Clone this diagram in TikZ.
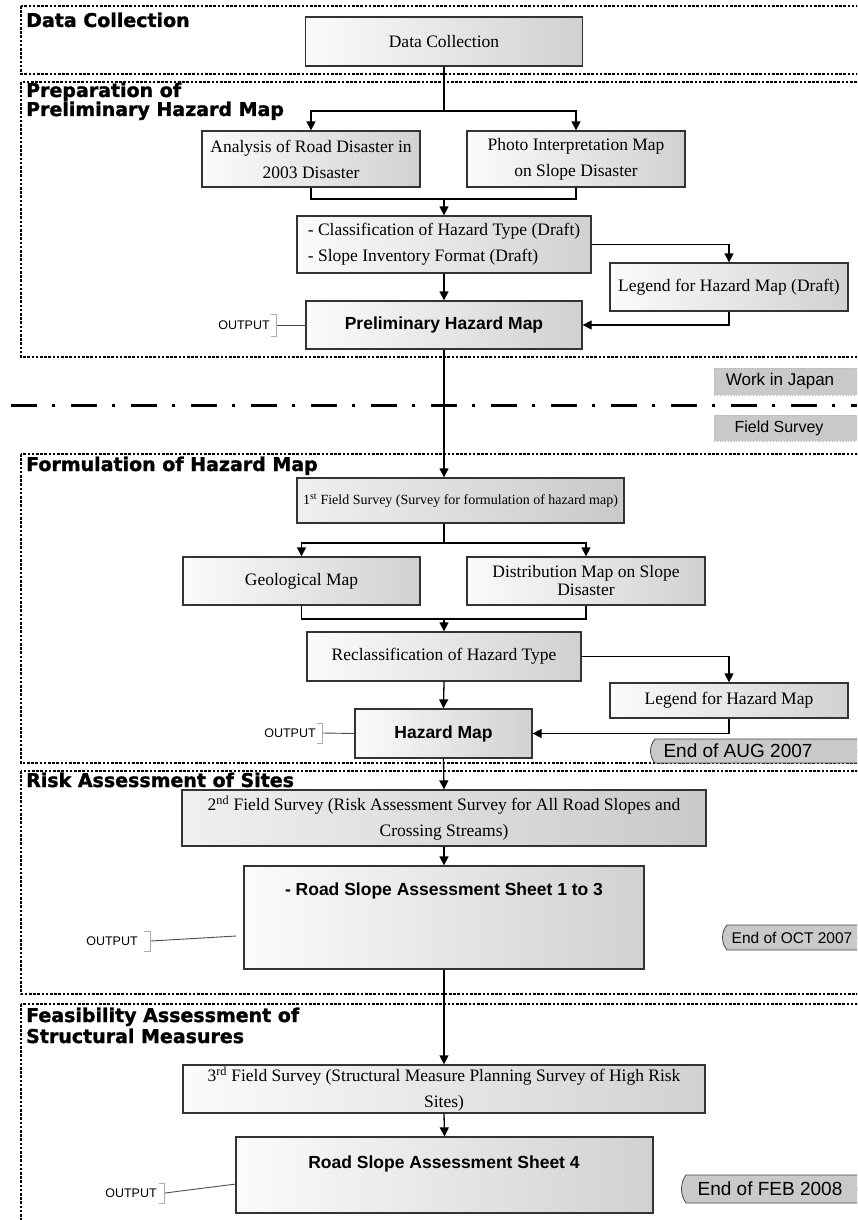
\documentclass[tikz,border=0pt]{standalone}
\usepackage{fontspec}
\setmainfont{Liberation Serif}
\setsansfont{Liberation Sans}
\newfontfamily\titlefont{DejaVu Sans Bold}[FakeBold=1.4]
\usetikzlibrary{arrows.meta,calc}

\begin{document}
\begin{tikzpicture}[x=1pt,y=-1pt,
  frame/.style={draw=black, line width=1.3pt, dash pattern=on 2.6pt off 1.6pt},
  sectitle/.style={anchor=base west, inner sep=0pt, font=\titlefont\fontsize{19}{21}\selectfont},
  box/.style={draw=black!80, line width=1.3pt, left color=gray!3, middle color=gray!12, right color=gray!36,
    inner sep=0pt, align=center, font=\fontsize{17.5}{26}\selectfont},
  darkbox/.style={box, left color=gray!12, middle color=gray!24, right color=gray!42},
  boldbox/.style={box, font=\sffamily\bfseries\fontsize{17.5}{21}\selectfont},
  boxtext/.style={inner sep=0pt, align=center},
  ln/.style={line width=1.3pt, draw=black},
  arr/.style={ln, -{Triangle[length=9pt,width=9pt]}},
  outlbl/.style={inner sep=0pt, font=\sffamily\fontsize{12.5}{14}\selectfont},
  brk/.style={draw=gray!65, line width=1pt},
  lead/.style={draw=black!70, line width=0.9pt},
  phase/.style={fill=gray!42, draw=gray!60, dotted, line width=0.8pt, inner sep=0pt, text=black},
  tagshape/.style={fill=gray!42, draw=gray!55!black, line width=0.8pt},
  tagtext/.style={inner sep=0pt, font=\sffamily\fontsize{19}{21}\selectfont}
]
\useasboundingbox (0,0) rectangle (857,1220);
\fill[white] (0,0) rectangle (857,1220);
\clip (0,0) rectangle (857,1220);

% ---- section frames -------------------------------------------------
\draw[frame] (21,6) rectangle (880,74);
\draw[frame] (21,82) rectangle (880,357);
\draw[frame] (21,454) rectangle (880,763);
\draw[frame] (21,771) rectangle (880,994);
\draw[frame] (21,1004) rectangle (880,1250);

% ---- divider between home work and field work -----------------------
\draw[line width=3pt, dash pattern=on 26pt off 15pt on 3pt off 16pt] (11,405) -- (857,405);
\node[phase, minimum width=146, minimum height=27, font=\sffamily\fontsize{17}{19}\selectfont] (wij) at (787,381.5)
  {\hspace*{-14pt}Work in Japan};
\node[phase, minimum width=146, minimum height=26, font=\sffamily\fontsize{16}{18}\selectfont] (fsv) at (787,428)
  {\hspace*{-16pt}Field Survey};

% ---- Data Collection / preliminary map --------------------------------
\node[box, minimum width=277, minimum height=49] (dc) at (444,41.5) {Data Collection};
\node[box, minimum width=218, minimum height=56] (ana) at (311,159) {Analysis of Road Disaster in\\2003 Disaster};
\node[box, minimum width=218, minimum height=56] (pho) at (576,159) {Photo Interpretation Map\\on Slope Disaster};
\node[box, minimum width=294, minimum height=57, align=left] (cls) at (444,244.5)
  {- Classification of Hazard Type (Draft)\\- Slope Inventory Format (Draft)};
\node[box, minimum width=238, minimum height=48] (leg1) at (729,287) {Legend for Hazard Map (Draft)};
\node[boldbox, minimum width=276, minimum height=48] (phm) at (444,325) {Preliminary Hazard Map};

\coordinate (j1) at (444,111);
\coordinate (j2) at (444,199);
\draw[ln] (dc.south) -- (j1);
\draw[arr] (j1) -| (ana.north);
\draw[arr] (j1) -| (pho.north);
\draw[ln] (ana.south) |- (j2);
\draw[ln] (pho.south) |- (j2);
\draw[arr] (j2) -- (cls.north);
\draw[arr] (cls.east) -| (leg1.north);
\draw[arr] (leg1.south) |- (phm.east);
\draw[arr] (cls.south) -- (phm.north);

\node[outlbl] (o1) at (244,325) {OUTPUT};
\draw[brk] ($(o1.east)+(1,-11)$) -- ($(o1.east)+(7,-11)$) -- ($(o1.east)+(7,11)$) -- ($(o1.east)+(1,11)$);
\draw[lead] ($(o1.east)+(7,0)$) -- (phm.west);

% ---- hazard map ----------------------------------------------------------
\node[darkbox, minimum width=327, minimum height=45, font=\fontsize{14}{18}\selectfont] (fs1) at (460.5,500.5)
  {1\textsuperscript{st} Field Survey (Survey for formulation of hazard map)};
\draw[arr] (phm.south) -- (phm.south |- fs1.north);

\node[box, minimum width=237, minimum height=48] (geo) at (301.5,581) {Geological Map};
\node[box, minimum width=238, minimum height=48, font=\fontsize{17.5}{18}\selectfont] (dis) at (586,581)
  {Distribution Map on Slope\\Disaster};
\node[box, minimum width=274, minimum height=49] (rec) at (444,656.5) {Reclassification of Hazard Type};
\node[box, minimum width=238, minimum height=35] (leg2) at (729,700.5) {Legend for Hazard Map};
\node[boldbox, minimum width=177, minimum height=49] (hm) at (443.5,733.5) {Hazard Map};

\coordinate (j3) at (444,543);
\coordinate (j4) at (444,619);
\draw[ln] (j3 |- fs1.south) -- (j3);
\draw[arr] (j3) -| (geo.north);
\draw[arr] (j3) -| (dis.north);
\draw[ln] (geo.south) |- (j4);
\draw[ln] (dis.south) |- (j4);
\draw[arr] (j4) -- (rec.north);
\draw[arr] (rec.east) -| (leg2.north);
\draw[arr] (leg2.south) |- (hm.east);
\draw[arr] (rec.south) -- (hm.north);

\node[outlbl] (o2) at (290,733) {OUTPUT};
\draw[brk] ($(o2.east)+(1,-10)$) -- ($(o2.east)+(7,-10)$) -- ($(o2.east)+(7,10)$) -- ($(o2.east)+(1,10)$);
\draw[lead] ($(o2.east)+(7,0)$) -- (hm.west);

\coordinate (augNW) at (655,739);
\coordinate (augSE) at (862,763);
\path[tagshape] (augNW) -- (augNW -| augSE)
  .. controls ($(augNW -| augSE)+(-6,7)$) and ($(augSE)+(-6,-7)$) .. (augSE)
  -- (augSE -| augNW)
  .. controls ($(augSE -| augNW)+(-6,-7)$) and ($(augNW)+(-6,7)$) .. cycle;
\node[tagtext] (aug) at (738,751) {End of AUG 2007};

% ---- risk assessment -----------------------------------------------------
\node[darkbox, minimum width=524, minimum height=56] (fs2) at (444,818)
  {2\textsuperscript{nd} Field Survey (Risk Assessment Survey for All Road Slopes and\\Crossing Streams)};
\draw[arr] (hm.south) -- (fs2.north);

\node[box, minimum width=400, minimum height=103] (rs13) at (444,917.5) {};
\node[boxtext, font=\sffamily\bfseries\fontsize{17.5}{21}\selectfont] (rs13t) at (444,891)
  {- Road Slope Assessment Sheet 1 to 3};
\draw[arr] (fs2.south) -- (rs13.north);

\node[outlbl] (o3) at (112,941) {OUTPUT};
\coordinate (e3) at (236,936);
\draw[brk] ($(o3.east)+(6,-10)$) -- ($(o3.east)+(13,-10)$) -- ($(o3.east)+(13,10)$) -- ($(o3.east)+(6,10)$);
\draw[lead] ($(o3.east)+(13,0)$) -- (e3);

\coordinate (octNW) at (727,925);
\coordinate (octSE) at (862,950);
\path[tagshape] (octNW) -- (octNW -| octSE)
  .. controls ($(octNW -| octSE)+(-6,7)$) and ($(octSE)+(-6,-7)$) .. (octSE)
  -- (octSE -| octNW)
  .. controls ($(octSE -| octNW)+(-6,-7)$) and ($(octNW)+(-6,7)$) .. cycle;
\node[tagtext, font=\sffamily\fontsize{15.5}{18}\selectfont] (oct) at (792,938) {End of OCT 2007};

% ---- structural measures -------------------------------------------------
\node[box, minimum width=522, minimum height=48] (fs3) at (444,1089)
  {3\textsuperscript{rd} Field Survey (Structural Measure Planning Survey of High Risk\\Sites)};
\draw[arr] (rs13.south) -- (fs3.north);

\node[box, minimum width=417, minimum height=76] (rs4) at (444.5,1175) {};
\node[boxtext, font=\sffamily\bfseries\fontsize{17.5}{21}\selectfont] (rs4t) at (444,1164)
  {Road Slope Assessment Sheet 4};
\draw[arr] (fs3.south) -- (rs4.north);

\node[outlbl] (o4) at (131,1193) {OUTPUT};
\coordinate (e4) at (236,1184);
\draw[brk] ($(o4.east)+(2,-10)$) -- ($(o4.east)+(8,-10)$) -- ($(o4.east)+(8,10)$) -- ($(o4.east)+(2,10)$);
\draw[lead] ($(o4.east)+(8,0)$) -- (e4);

\coordinate (febNW) at (686,1175);
\coordinate (febSE) at (862,1203);
\path[tagshape] (febNW) -- (febNW -| febSE)
  .. controls ($(febNW -| febSE)+(-6,8)$) and ($(febSE)+(-6,-8)$) .. (febSE)
  -- (febSE -| febNW)
  .. controls ($(febSE -| febNW)+(-6,-8)$) and ($(febNW)+(-6,8)$) .. cycle;
\node[tagtext] (feb) at (770,1189) {End of FEB 2008};

% ---- section titles (kept on top) ---------------------------------------
\node[sectitle] (t1) at (26,27) {Data Collection};
\node[sectitle] (t2a) at (26,97) {Preparation of};
\node[sectitle] (t2b) at (26,116) {Preliminary Hazard Map};
\node[sectitle] (t3) at (26,471) {Formulation of Hazard Map};
\node[sectitle] (t4) at (26,787) {Risk Assessment of Sites};
\node[sectitle] (t5a) at (26,1022) {Feasibility Assessment of};
\node[sectitle] (t5b) at (26,1043) {Structural Measures};
\end{tikzpicture}
\end{document}
